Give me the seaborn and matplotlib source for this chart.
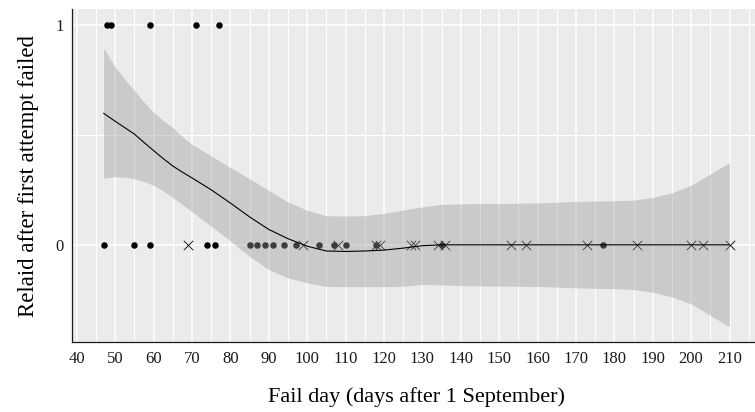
import matplotlib
matplotlib.use("Agg")
import matplotlib.pyplot as plt
import numpy as np
import pandas as pd
import seaborn as sns
from matplotlib.ticker import FixedLocator, MultipleLocator

# Nests whose first attempt failed: fail day and whether the pair relaid
relaid_days = [48, 49, 59, 71, 77]
not_relaid_dot_days = [47, 55, 59, 74, 76, 85, 87, 89, 91, 94, 97, 103, 107,
                       110, 118, 135, 177]
not_relaid_cross_days = [69, 99, 108, 118, 119, 127, 128, 134, 136, 153, 157,
                         173, 186, 200, 203, 210]

# Loess fit and its 95% confidence band
smooth_day = [47, 50, 52.5, 55, 57.5, 60, 62.5, 65, 67.5, 70, 75, 80, 85, 90,
              95, 100, 105, 110, 115, 120, 125, 130, 135, 140, 150, 160, 170,
              180, 185, 190, 195, 200, 205, 210]
smooth_fit = [0.597, 0.561, 0.532, 0.503, 0.465, 0.428, 0.392, 0.358, 0.330,
              0.304, 0.250, 0.190, 0.127, 0.070, 0.028, -0.006, -0.028, -0.030,
              -0.028, -0.024, -0.015, -0.004, 0.0, 0.0, 0.0, 0.0, 0.0, 0.0,
              0.0, 0.0, 0.0, 0.0, 0.0, 0.0]
smooth_lower = [0.302, 0.309, 0.307, 0.300, 0.288, 0.270, 0.245, 0.215, 0.183,
                0.150, 0.085, 0.018, -0.053, -0.112, -0.150, -0.172, -0.189,
                -0.190, -0.190, -0.190, -0.188, -0.180, -0.182, -0.185, -0.187,
                -0.189, -0.195, -0.199, -0.203, -0.215, -0.236, -0.268, -0.320,
                -0.372]
smooth_upper = [0.892, 0.808, 0.752, 0.700, 0.648, 0.602, 0.565, 0.532, 0.492,
                0.456, 0.404, 0.351, 0.300, 0.247, 0.194, 0.157, 0.132, 0.131,
                0.132, 0.143, 0.158, 0.172, 0.184, 0.186, 0.188, 0.190, 0.197,
                0.200, 0.203, 0.215, 0.236, 0.270, 0.322, 0.373]

x_ticks = list(range(40, 211, 10))
y_ticks = [0, 1]
y_tick_labels = ["0", "1"]
x_label = "Fail day (days after 1 September)"
y_label = "Relaid after first attempt failed"

dots = pd.DataFrame({
    "day": relaid_days + not_relaid_dot_days,
    "relaid": [1] * len(relaid_days) + [0] * len(not_relaid_dot_days),
})
crosses = pd.DataFrame({
    "day": not_relaid_cross_days,
    "relaid": [0] * len(not_relaid_cross_days),
})
smooth = pd.DataFrame({"day": smooth_day, "fit": smooth_fit,
                       "lower": smooth_lower, "upper": smooth_upper})

sns.set_theme(style="white")
plt.rcParams["font.family"] = ["Liberation Serif", "DejaVu Serif"]

W, H = 755, 412
fig = plt.figure(figsize=(W / 100, H / 100), dpi=100)
left, right, top, bottom = 72.3, 760.8, 9.3, 342.0
ax = fig.add_axes([left / W, (H - bottom) / H, (right - left) / W, (bottom - top) / H])
ax.set_facecolor("#EBEBEB")

sns.scatterplot(data=dots, x="day", y="relaid", marker="o", s=22,
                color="black", linewidth=0, ax=ax, zorder=2, legend=False)
sns.scatterplot(data=crosses, x="day", y="relaid", marker="x", s=46,
                color="black", linewidth=0.6, ax=ax, zorder=2, legend=False)

ax.fill_between(smooth["day"], smooth["lower"], smooth["upper"],
                color="#999999", alpha=0.4, linewidth=0, zorder=3)
sns.lineplot(data=smooth, x="day", y="fit", color="black", linewidth=0.8,
             ax=ax, zorder=4, legend=False)

ax.set_xlim(38.85, 218.15)
ax.set_ylim(-0.441, 1.069)

ax.xaxis.set_major_locator(FixedLocator(x_ticks))
ax.xaxis.set_minor_locator(MultipleLocator(5))
ax.set_yticks(y_ticks)
ax.set_yticklabels(y_tick_labels)
ax.yaxis.set_minor_locator(FixedLocator([0.5]))

ax.set_axisbelow(True)
ax.grid(which="major", color="white", linewidth=1.1)
ax.grid(which="minor", color="white", linewidth=0.75)

for side in ("top", "right"):
    ax.spines[side].set_visible(False)
for side in ("left", "bottom"):
    ax.spines[side].set_color("#1a1a1a")
    ax.spines[side].set_linewidth(0.9)

ax.tick_params(which="major", length=2.8, width=0.7, color="#333333",
               labelsize=12, labelcolor="#1a1a1a", pad=3.5)
ax.tick_params(which="minor", length=0)

ax.set_xlabel(x_label, fontsize=16, labelpad=15, color="black")
ax.set_ylabel(y_label, fontsize=16.5, labelpad=12, color="black")

fig.savefig("out.png", dpi=100)
